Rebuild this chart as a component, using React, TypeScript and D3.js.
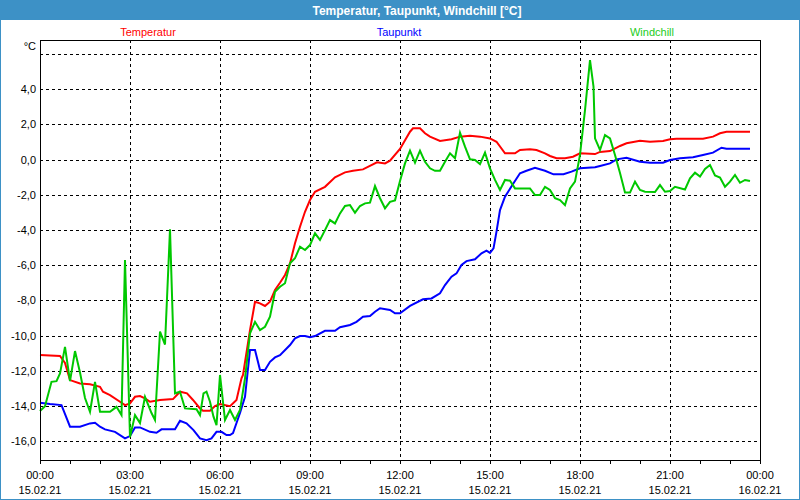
import React from "react";
import * as d3 from "d3";

// minutes since 15.02.21 00:00
const tempMinutes = [0,40,50,60,80,100,120,126,140,160,170,180,190,200,210,220,240,266,280,294,306,320,326,340,350,360,380,393,403,406,420,430,440,450,460,470,480,490,500,510,520,530,540,550,570,590,610,626,646,674,690,700,720,740,746,760,770,780,800,823,840,860,880,900,913,930,950,960,980,993,1010,1020,1033,1050,1066,1080,1110,1120,1140,1160,1173,1200,1220,1246,1260,1273,1326,1346,1360,1373,1420];
const tempValues = [-11.11,-11.16,-11.56,-12.53,-12.72,-12.77,-12.91,-13.19,-13.38,-13.76,-13.95,-13.85,-13.48,-13.44,-13.57,-13.76,-13.66,-13.61,-13.19,-13.28,-13.66,-14.14,-14.27,-14.27,-14.01,-13.89,-14.01,-13.66,-12.43,-12.24,-9.69,-8.08,-8.17,-8.32,-8.08,-7.41,-7.0,-6.56,-5.9,-4.76,-3.82,-2.97,-2.3,-1.83,-1.55,-1.01,-0.73,-0.64,-0.56,-0.16,-0.22,-0.07,0.6,1.58,1.77,1.77,1.49,1.3,1.05,1.15,1.3,1.35,1.3,1.2,1.01,0.35,0.35,0.54,0.58,0.54,0.35,0.2,0.07,0.07,0.16,0.35,0.31,0.43,0.48,0.77,0.92,1.07,1.01,1.05,1.15,1.18,1.18,1.3,1.49,1.58,1.58];

const dewMinutes = [0,20,43,60,80,100,110,120,130,150,170,180,190,200,220,233,243,270,280,293,307,320,333,343,353,363,373,380,386,400,410,420,430,440,450,460,470,480,500,510,520,530,540,550,570,590,600,620,633,646,660,670,680,700,710,720,740,766,783,800,810,823,833,843,853,870,883,893,900,907,913,920,930,947,960,973,990,1010,1027,1047,1063,1080,1110,1120,1140,1153,1173,1200,1220,1246,1260,1280,1306,1326,1346,1363,1373,1420];
const dewValues = [-13.82,-13.89,-13.95,-15.18,-15.18,-14.99,-14.95,-15.18,-15.33,-15.47,-15.84,-15.71,-15.22,-15.22,-15.47,-15.52,-15.33,-15.33,-14.84,-14.99,-15.37,-15.84,-15.94,-15.84,-15.47,-15.47,-15.65,-15.65,-15.54,-14.4,-13.48,-10.82,-10.82,-11.96,-11.96,-11.49,-11.24,-11.11,-10.54,-10.16,-10.03,-10.03,-10.1,-10.03,-9.73,-9.73,-9.53,-9.4,-9.22,-8.93,-8.89,-8.65,-8.45,-8.55,-8.74,-8.74,-8.32,-7.94,-7.89,-7.6,-7.13,-6.66,-6.47,-5.99,-5.77,-5.67,-5.33,-5.18,-5.3,-5.05,-4.1,-2.87,-2.11,-1.35,-0.78,-0.64,-0.47,-0.64,-0.84,-0.84,-0.69,-0.5,-0.44,-0.37,-0.22,0.01,0.1,-0.13,-0.18,-0.18,-0.03,0.07,0.13,0.26,0.39,0.67,0.61,0.61];

const chillMinutes = [0,10,23,33,40,50,60,70,80,90,100,110,120,140,153,163,170,180,190,200,210,223,230,240,250,260,270,280,290,313,320,327,333,340,347,353,360,370,380,390,400,410,420,430,440,450,460,470,480,490,500,510,520,530,540,550,560,570,580,590,600,610,620,630,640,650,660,670,680,690,700,710,720,730,740,750,760,770,780,790,800,810,820,830,840,850,860,870,880,890,900,910,920,930,940,950,980,990,1000,1010,1020,1030,1040,1050,1060,1070,1080,1090,1100,1107,1110,1120,1130,1140,1150,1160,1170,1180,1190,1200,1210,1230,1240,1250,1260,1270,1290,1300,1310,1320,1330,1340,1350,1360,1370,1380,1390,1400,1410,1420];
const chillValues = [-14.29,-14.01,-12.63,-12.59,-12.15,-10.64,-12.59,-10.88,-12.1,-13.55,-14.33,-12.63,-14.33,-14.33,-14.05,-14.52,-5.71,-15.77,-14.52,-14.97,-13.48,-14.4,-14.8,-9.78,-10.51,-3.97,-13.28,-13.19,-14.14,-14.19,-14.52,-13.28,-13.19,-13.76,-14.61,-15.09,-12.24,-14.8,-14.23,-14.8,-14.23,-12.43,-9.88,-9.22,-9.69,-9.5,-8.93,-7.51,-7.23,-7.03,-5.9,-5.61,-4.95,-5.14,-4.86,-4.19,-4.57,-4.01,-3.44,-3.63,-3.06,-2.64,-2.59,-3.02,-2.64,-2.49,-2.45,-1.51,-2.2,-2.77,-2.4,-2.32,-1.22,-0.22,0.5,-0.18,0.5,-0.13,-0.5,-0.64,-0.64,-0.13,0.35,0.07,1.52,0.73,0.01,-0.03,-0.26,0.39,-0.5,-1.16,-1.73,-1.16,-1.2,-1.64,-1.64,-2.02,-2.02,-1.55,-1.73,-2.19,-2.3,-2.59,-1.64,-1.26,0.26,2.81,5.65,4.14,1.2,0.54,1.39,1.2,0.26,-0.77,-1.88,-1.88,-1.26,-1.73,-1.83,-1.85,-1.45,-1.83,-1.79,-1.55,-1.7,-1.07,-0.75,-0.97,-0.54,-0.31,-0.91,-1.02,-1.55,-1.26,-0.88,-1.32,-1.16,-1.22];

const xTickMinutes = [0,180,360,540,720,900,1080,1260,1440];
const xTimeLabels = ["00:00","03:00","06:00","09:00","12:00","15:00","18:00","21:00","00:00"];
const xDateLabels = ["15.02.21","15.02.21","15.02.21","15.02.21","15.02.21","15.02.21","15.02.21","15.02.21","16.02.21"];
const yGridValues = [-16,-14,-12,-10,-8,-6,-4,-2,0,2,4,6];
const yLabelValues = [-16,-14,-12,-10,-8,-6,-4,-2,0,2,4];

const seriesNames = ["Temperatur","Taupunkt","Windchill"];
const seriesColors = ["#ff0000","#0000ff","#00c800"];
const legendColors = ["#ff0000","#0000ff","#22cc22"];

const W = 800, H = 500;
const L = 40, R = 760, T = 40, B = 460;
const FONT = "'Liberation Sans', Arial, sans-serif";

export default function App() {
  const x = d3.scaleLinear().domain([0, 1440]).range([L, R]);
  const y = d3.scaleLinear().domain([-17.07, 6.79]).range([B, T]);
  const line = d3.line<[number, number]>().x(d => x(d[0])).y(d => y(d[1]));
  const series: [number, number][][] = [
    tempMinutes.map((m, i) => [m, tempValues[i]]),
    dewMinutes.map((m, i) => [m, dewValues[i]]),
    chillMinutes.map((m, i) => [m, chillValues[i]]),
  ];
  const hourTicks = d3.range(0, 1441, 60);
  const fmt = (v: number) => v.toFixed(1).replace(".", ",");
  const legendX = [148, 399, 652];

  return (
    <svg width={W} height={H} style={{ position: "fixed", left: 0, top: 0, background: "#fff" }} fontFamily={FONT}>
      <rect x={0} y={0} width={W} height={H} fill="#fff" />
      <rect x={0.5} y={0.5} width={W - 1} height={H - 1} fill="none" stroke="#3d91c6" strokeWidth={1} />
      <rect x={0} y={0} width={W} height={20} fill="#3d91c6" />
      <text x={417} y={15} fill="#fff" fontWeight="bold" fontSize={12} textAnchor="middle" textLength={209} lengthAdjust="spacingAndGlyphs">
        Temperatur, Taupunkt, Windchill [°C]
      </text>
      {seriesNames.map((n, i) => (
        <text key={n} x={legendX[i]} y={36} fill={legendColors[i]} fontSize={11} textAnchor="middle">{n}</text>
      ))}
      <text x={36} y={50} fontSize={11} textAnchor="end" fill="#000">°C</text>

      {yGridValues.map(v => (
        <line key={"h" + v} x1={L} x2={R} y1={Math.round(y(v)) + 0.5} y2={Math.round(y(v)) + 0.5} stroke="#000" strokeDasharray="3,3" strokeWidth={1} />
      ))}
      {xTickMinutes.slice(1, -1).map(m => (
        <line key={"v" + m} x1={Math.round(x(m)) + 0.5} x2={Math.round(x(m)) + 0.5} y1={T} y2={B} stroke="#000" strokeDasharray="3,3" strokeWidth={1} />
      ))}

      <g fill="none" strokeWidth={2} strokeLinejoin="miter">
        {series.map((s, i) => (
          <path key={i} d={line(s) || ""} stroke={seriesColors[i]} />
        ))}
      </g>

      <rect x={L + 0.5} y={T + 0.5} width={R - L} height={B - T} fill="none" stroke="#000" strokeWidth={1} />
      {hourTicks.map(m => (
        <line key={"t" + m} x1={Math.round(x(m)) + 0.5} x2={Math.round(x(m)) + 0.5} y1={B} y2={B + 4} stroke="#000" />
      ))}
      {yLabelValues.map(v => (
        <text key={"yl" + v} x={36} y={y(v) + 4} fontSize={11} textAnchor="end" fill="#000">{fmt(v)}</text>
      ))}
      {xTickMinutes.map((m, i) => (
        <g key={"xl" + i}>
          <text x={x(m)} y={479} fontSize={11} textAnchor="middle" fill="#000">{xTimeLabels[i]}</text>
          <text x={x(m)} y={494} fontSize={11} textAnchor="middle" fill="#000">{xDateLabels[i]}</text>
        </g>
      ))}
    </svg>
  );
}
